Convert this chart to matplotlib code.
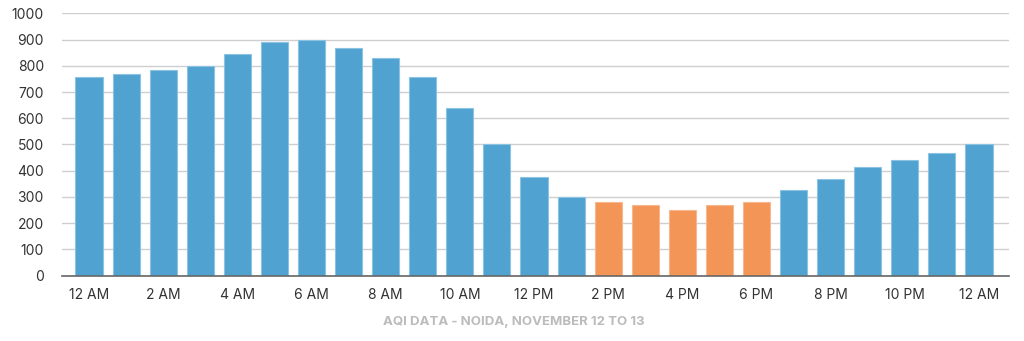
import matplotlib.pyplot as plt

plt.rcParams['font.family'] = ['Inter', 'DejaVu Sans']

hours = ['12 AM', '1 AM', '2 AM', '3 AM', '4 AM', '5 AM', '6 AM', '7 AM', '8 AM',
         '9 AM', '10 AM', '11 AM', '12 PM', '1 PM', '2 PM', '3 PM', '4 PM', '5 PM',
         '6 PM', '7 PM', '8 PM', '9 PM', '10 PM', '11 PM', '12 AM']
aqi = [756, 768, 784, 799, 845, 890, 899, 869, 828, 756, 640, 500, 377, 300,
       281, 268, 250, 268, 280, 328, 370, 413, 440, 469, 500]
highlight = ['2 PM', '3 PM', '4 PM', '5 PM', '6 PM']

blue = '#50a2d0'
orange = '#f49558'
colors = [orange if (h in highlight and i < 24) else blue for i, h in enumerate(hours)]
edges = ['#f7b88e' if c == orange else '#8cc3e3' for c in colors]

fig = plt.figure(figsize=(10.24, 3.41), dpi=100)
ax = fig.add_axes([0.0605, 0.1915, 0.9245, 0.7695])

x = list(range(len(hours)))
ax.bar(x, aqi, width=0.73, color=colors, edgecolor=edges, linewidth=0.8, zorder=3)

ax.set_ylim(0, 1000)
ax.set_xlim(-0.73, 24.8)
ax.set_yticks(range(0, 1001, 100))
ax.grid(axis='y', color='#cfcfcf', linewidth=1.0, zorder=0)
ax.set_xticks(x[::2])
ax.set_xticklabels(hours[::2])
ax.tick_params(axis='both', length=0, labelsize=10, labelcolor='#333333')
ax.tick_params(axis='y', pad=13)
ax.tick_params(axis='x', pad=9)

for s in ['top', 'right', 'left']:
    ax.spines[s].set_visible(False)
ax.spines['bottom'].set_color('#666666')
ax.spines['bottom'].set_linewidth(1.2)
ax.spines['bottom'].set_zorder(4)

fig.text(0.502, 0.055, 'AQI DATA - NOIDA, NOVEMBER 12 TO 13', ha='center', va='center',
         fontsize=9.5, color='#bbbbbb', fontweight='bold')

fig.savefig('out.png', dpi=100)
